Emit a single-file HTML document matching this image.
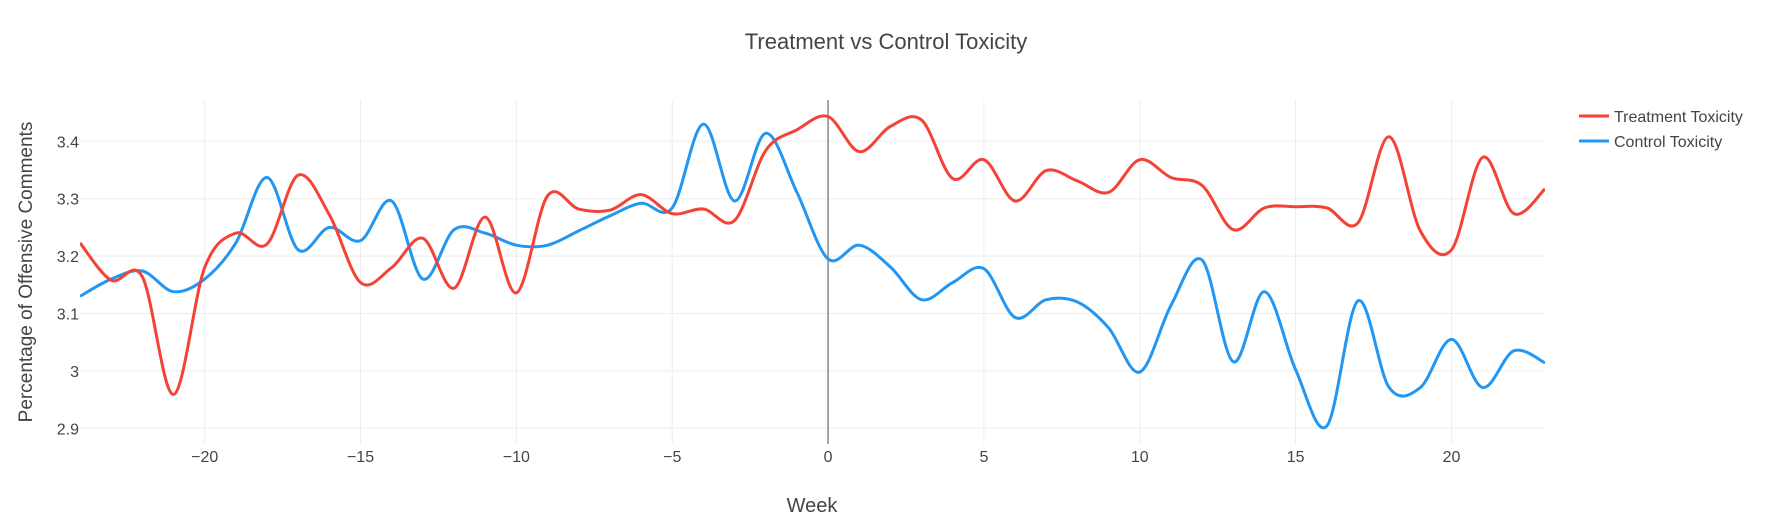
<!DOCTYPE html>
<html><head><meta charset="utf-8"><style>
body{margin:0;background:#fff;font-family:"Liberation Sans",sans-serif}
svg text{font-family:"Liberation Sans",sans-serif;fill:#444}
</style></head><body>
<svg id="c" width="1773" height="525"></svg>
<script>
const weeks=[];for(let w=-24;w<=23;w++)weeks.push(w);
const treatment=[3.223,3.158,3.164,2.959,3.18,3.24,3.221,3.341,3.272,3.154,3.18,3.231,3.144,3.268,3.136,3.305,3.282,3.28,3.307,3.274,3.282,3.262,3.384,3.42,3.443,3.382,3.426,3.437,3.335,3.368,3.296,3.349,3.331,3.311,3.368,3.337,3.323,3.246,3.284,3.286,3.284,3.258,3.408,3.244,3.211,3.372,3.274,3.317];
const control=[3.13,3.16,3.174,3.138,3.16,3.223,3.337,3.211,3.25,3.227,3.296,3.16,3.246,3.24,3.219,3.219,3.244,3.27,3.292,3.284,3.43,3.296,3.414,3.311,3.195,3.219,3.181,3.124,3.154,3.178,3.093,3.124,3.12,3.075,2.998,3.114,3.193,3.016,3.138,3.002,2.904,3.122,2.971,2.971,3.055,2.971,3.035,3.014];
const xTicks=[-20,-15,-10,-5,0,5,10,15,20];
const yTicks=[2.9,3,3.1,3.2,3.3,3.4];
const xTickLabels=["\u221220","\u221215","\u221210","\u22125","0","5","10","15","20"];
const yTickLabels=["2.9","3","3.1","3.2","3.3","3.4"];
const L=80,R=1545,T=100,B=444;
const X=w=>L+(w+24)*(R-L)/47;
const Y=v=>141.3+(3.4-v)*574;
const NS="http://www.w3.org/2000/svg",svg=document.getElementById('c');
function mk(t,a,p){const e=document.createElementNS(NS,t);for(const k in a)e.setAttribute(k,a[k]);(p||svg).appendChild(e);return e;}
const clip=mk('clipPath',{id:'cp'});mk('rect',{x:L,y:T,width:R-L,height:B-T},clip);
xTicks.forEach((t,i)=>{
 if(t!==0){const g=mk('line',{x1:X(t),x2:X(t),y1:T,y2:B,stroke:'#eee','stroke-width':1});
 
 }
 const s=mk('text',{x:X(t),y:462,'text-anchor':'middle','font-size':16});s.textContent=xTickLabels[i];
 
 
});
yTicks.forEach((t,i)=>{
 const g=mk('line',{x1:L,x2:R,y1:Y(t),y2:Y(t),stroke:'#eee'});
 
 
 const s=mk('text',{x:79,y:Y(t)+6,'text-anchor':'end','font-size':16});s.textContent=yTickLabels[i];
 
 
});
const z=mk('line',{x1:X(0),x2:X(0),y1:T,y2:B,stroke:'#888','stroke-width':1.5});


function path(vals){
 const p=vals.map((v,i)=>[X(weeks[i]),Y(v)]);let d='M'+p[0];
 for(let i=0;i<p.length-1;i++){const a=p[i-1]||p[i],b=p[i],c=p[i+1],e=p[i+2]||c;
  d+=`C${b[0]+(c[0]-a[0])/6},${b[1]+(c[1]-a[1])/6} ${c[0]-(e[0]-b[0])/6},${c[1]-(e[1]-b[1])/6} ${c[0]},${c[1]}`;}
 return d;}
const pc=mk('path',{d:path(control),fill:'none',stroke:'#2196f3','stroke-width':3,'clip-path':'url(#cp)'});


const pt=mk('path',{d:path(treatment),fill:'none',stroke:'#f44336','stroke-width':3,'clip-path':'url(#cp)'});


const ti=mk('text',{x:886,y:49,'text-anchor':'middle','font-size':22});ti.textContent='Treatment vs Control Toxicity';


const xt=mk('text',{x:812,y:512,'text-anchor':'middle','font-size':20});xt.textContent='Week';


const yt=mk('text',{x:0,y:0,'text-anchor':'middle','font-size':19,transform:'translate(32,272) rotate(-90)'});yt.textContent='Percentage of Offensive Comments';


[['Treatment Toxicity','#f44336',116],['Control Toxicity','#2196f3',141]].forEach(([n,c,y])=>{
 const g=mk('g',{});
 
 
 mk('line',{x1:1579,x2:1609,y1:y,y2:y,stroke:c,'stroke-width':3},g);
 const t=mk('text',{x:1614,y:y+6,'font-size':16},g);t.textContent=n;
});
</script>
</body></html>
